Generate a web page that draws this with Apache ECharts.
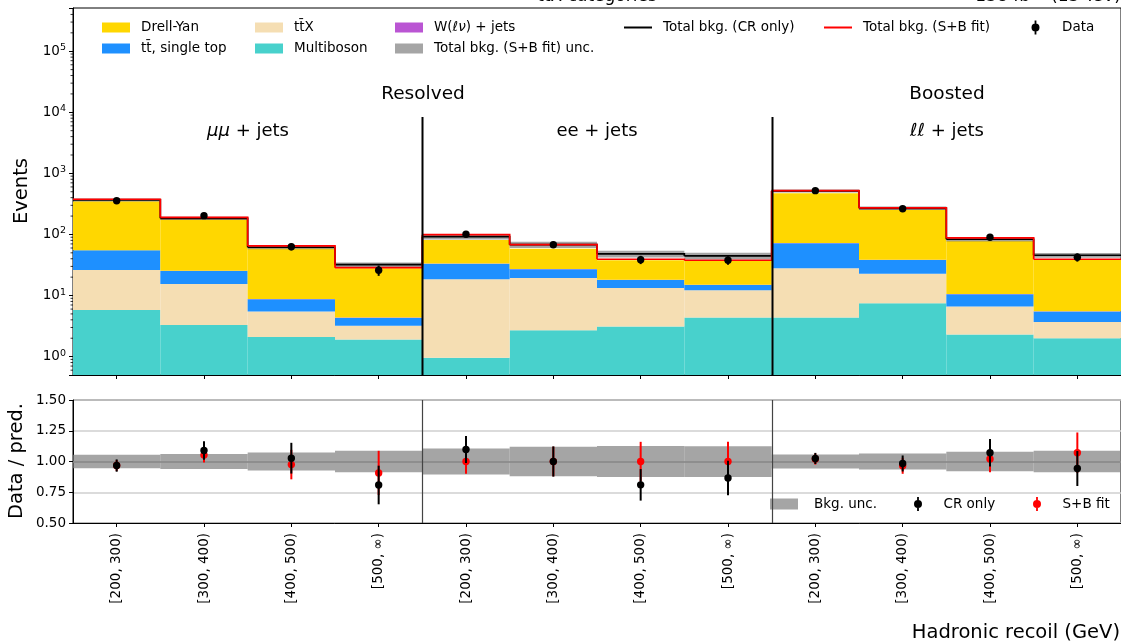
<!DOCTYPE html>
<html>
<head>
<meta charset="utf-8">
<script src="https://cdn.jsdelivr.net/npm/echarts@6/dist/echarts.min.js"></script>
<style>
html, body { margin: 0; padding: 0; background: #fff; }
#chart { width: 1121px; height: 643px; }
</style>
</head>
<body>
<div id="chart"></div>
<script>
// bins: 3 categories x 4 recoil bins
const bins = ['[200, 300)', '[300, 400)', '[400, 500)', '[500, ∞)',
              '[200, 300)', '[300, 400)', '[400, 500)', '[500, ∞)',
              '[200, 300)', '[300, 400)', '[400, 500)', '[500, ∞)'];

// background yields (events), bottom of stack first
const multiboson = [5.8, 3.3, 2.1, 1.9, 0.96, 2.7, 3.1, 4.35, 4.35, 7.5, 2.3, 2.0];
const ttx        = [20.4, 12.2, 3.4, 1.3, 17.5, 16.7, 10.2, 7.85, 23.6, 15.3, 4.3, 1.7];
const ttbar      = [28.8, 9.8, 3.2, 1.1, 14.8, 7.5, 4.7, 2.7, 43.8, 15.5, 3.9, 1.8];
const wjets      = [0.3, 0.2, 0.1, 0.05, 0.2, 0.2, 0.1, 0.1, 0.4, 0.3, 0.1, 0.05];
const drellyan   = [295, 152, 50.8, 23.7, 48, 31, 19.8, 22.9, 400, 214, 68.5, 32.8];

const totalCR  = [367, 184, 61.7, 32, 92, 68, 48, 44.5, 515, 268, 83.4, 45.7];
const totalSB  = [377, 191, 64.8, 28.6, 99.3, 68, 39.3, 37.8, 521, 272, 87.6, 39.3];
const relUnc   = [0.055, 0.06, 0.073, 0.088, 0.105, 0.12, 0.127, 0.125, 0.057, 0.066, 0.08, 0.087];

const data     = [357, 203, 63, 26, 100.7, 68, 38.7, 37.8, 521, 264, 90, 42.4];
const dataErr  = [19, 14, 8, 5, 10, 8, 6, 6, 23, 16, 9.5, 6.5];

// ratio panel
const ratioCR     = [0.967, 1.09, 1.027, 0.809, 1.098, 1.0, 0.81, 0.866, 1.025, 0.984, 1.071, 0.943];
const ratioCRErr  = [0.05, 0.075, 0.125, 0.157, 0.11, 0.123, 0.128, 0.14, 0.045, 0.065, 0.112, 0.142];
const ratioSB     = [0.967, 1.052, 0.975, 0.907, 1.0, 1.0, 1.0, 1.0, 1.02, 0.965, 1.02, 1.071];
const ratioSBErr  = [0.045, 0.06, 0.12, 0.18, 0.1, 0.12, 0.16, 0.16, 0.045, 0.065, 0.107, 0.165];

const regionLabels = ['Resolved', 'Boosted'];
const FONT = 'DejaVu Sans';
const Y_MIN = 0.5, Y_MAX = 5.1e5;
const DIVIDER_TOP = 8.4e3;

const chart = echarts.init(document.getElementById('chart'));

const layers = [
    { name: 'Multiboson', values: multiboson, color: '#48D1CC' },
    { name: 't\u0074\u0304X', values: ttx, color: '#F5DEB3' },
    { name: 't\u0074\u0304, single top', values: ttbar, color: '#1E90FF' },
    { name: 'W(ℓν) + jets', values: wjets, color: '#BA55D3' },
    { name: 'Drell-Yan', values: drellyan, color: '#FFD700' }
];

function rectSeries(name, lo, hi, color, xi, yi, z) {
    return {
        type: 'custom', name: name, xAxisIndex: xi, yAxisIndex: yi, z: z, silent: true,
        itemStyle: { color: color },
        encode: { x: 0, y: [1, 2] },
        data: lo.map((v, i) => [i, v, hi[i]]),
        renderItem: function (params, api) {
            const i = api.value(0);
            const p1 = api.coord([i, api.value(1)]);
            const p2 = api.coord([i, api.value(2)]);
            const w = api.size([1, 0], [i, api.value(2)])[0];
            return {
                type: 'rect',
                shape: { x: p1[0] - w / 2, y: p2[1], width: w, height: p1[1] - p2[1] },
                style: { fill: color }
            };
        }
    };
}

function stepSeries(name, vals, color, z) {
    return {
        type: 'custom', name: name, xAxisIndex: 0, yAxisIndex: 0, z: z, silent: true,
        itemStyle: { color: color },
        encode: { x: 0, y: 1 },
        data: vals.map((v, i) => [i, v, i < vals.length - 1 ? vals[i + 1] : v]),
        renderItem: function (params, api) {
            const i = api.value(0);
            const c = api.coord([i, api.value(1)]);
            const cn = api.coord([i, api.value(2)]);
            const w = api.size([1, 0], [i, api.value(1)])[0];
            return {
                type: 'polyline',
                shape: { points: [[c[0] - w / 2, c[1]], [c[0] + w / 2, c[1]], [c[0] + w / 2, cn[1]]] },
                style: { stroke: color, lineWidth: 1.7, fill: null }
            };
        }
    };
}

function pointSeries(name, vals, errs, color, xi, yi, z) {
    return {
        type: 'custom', name: name, xAxisIndex: xi, yAxisIndex: yi, z: z, silent: true,
        itemStyle: { color: color },
        encode: { x: 0, y: 1 },
        data: vals.map((v, i) => [i, v, errs[i]]),
        renderItem: function (params, api) {
            const i = api.value(0), v = api.value(1), e = api.value(2);
            const c = api.coord([i, v]);
            const t = api.coord([i, v + e]);
            const b = api.coord([i, v - e]);
            return {
                type: 'group',
                children: [
                    { type: 'line', shape: { x1: c[0], y1: t[1], x2: c[0], y2: b[1] }, style: { stroke: color, lineWidth: 2 } },
                    { type: 'circle', shape: { cx: c[0], cy: c[1], r: 3.7 }, style: { fill: color } }
                ]
            };
        }
    };
}

function dividerSeries(xi, yi, top, width, color) {
    return {
        type: 'custom', xAxisIndex: xi, yAxisIndex: yi, z: 8, silent: true,
        encode: { x: 0, y: 1 },
        data: [[3, top === null ? 1 : top], [7, top === null ? 1 : top]],
        renderItem: function (params, api) {
            const i = api.value(0);
            const c = api.coord([i, api.value(1)]);
            const w = api.size([1, 0], [i, api.value(1)])[0];
            const x = Math.round(c[0] + w / 2) + 0.5;
            const y0 = top === null ? params.coordSys.y : c[1];
            return {
                type: 'line',
                shape: { x1: x, y1: y0, x2: x, y2: params.coordSys.y + params.coordSys.height },
                style: { stroke: color, lineWidth: width }
            };
        }
    };
}

// stack
const series = [];
let cum = bins.map(() => 0);
layers.forEach((l, k) => {
    const lo = cum.map(v => Math.max(v, Y_MIN));
    const hi = cum.map((v, i) => v + l.values[i]);
    series.push(rectSeries(l.name, lo, hi, l.color, 0, 0, 2 + k * 0.01));
    cum = hi;
});

series.push(rectSeries('Total bkg. (S+B fit) unc.',
    totalCR.map((v, i) => v * (1 - relUnc[i])),
    totalCR.map((v, i) => v * (1 + relUnc[i])),
    'rgba(127,127,127,0.7)', 0, 0, 3));
series.push(stepSeries('Total bkg. (CR only)', totalCR, '#000000', 4));
series.push(stepSeries('Total bkg. (S+B fit)', totalSB, '#ff0000', 5));
series.push(pointSeries('Data', data, dataErr, '#000000', 0, 0, 6));
series.push(dividerSeries(0, 0, DIVIDER_TOP, 2, '#000'));

// minor log ticks on the main y axis
const minorVals = [];
for (let e = -1; e <= 5; e++) {
    for (let m = 2; m <= 9; m++) {
        const v = m * Math.pow(10, e);
        if (v > Y_MIN && v < Y_MAX) minorVals.push([0, v]);
    }
}
series.push({
    type: 'custom', xAxisIndex: 0, yAxisIndex: 0, z: 9, silent: true, clip: false,
    encode: { x: 0, y: 1 },
    data: minorVals,
    renderItem: function (params, api) {
        const c = api.coord([0, api.value(1)]);
        const x = params.coordSys.x;
        return { type: 'line', shape: { x1: x - 2.5, y1: c[1], x2: x, y2: c[1] }, style: { stroke: '#000', lineWidth: 0.8 } };
    }
});

// ratio panel
const ratioBand = rectSeries('Bkg. unc.', relUnc.map(u => 1 - u), relUnc.map(u => 1 + u), 'rgba(127,127,127,0.7)', 1, 1, 3);
ratioBand.markLine = {
    silent: true, symbol: 'none', label: { show: false },
    lineStyle: { color: '#8a8a8a', width: 1.5, type: 'solid' },
    data: [{ yAxis: 1 }]
};
series.push(ratioBand);
series.push(dividerSeries(1, 1, null, 1.2, '#444'));
series.push(pointSeries('S+B fit', ratioSB, ratioSBErr, '#ff0000', 1, 1, 5));
series.push(pointSeries('CR only', ratioCR, ratioCRErr, '#000000', 1, 1, 6));

// legends
const markerPath = 'path://M3.1,0 L4.9,0 L4.9,14 L3.1,14 Z M4,3 A4,4 0 1,1 4,11 A4,4 0 1,1 4,3 Z';
function legendItem(name, left, cy, icon, w, h, pad) {
    return {
        left: left, top: cy - 8, padding: 0, itemWidth: w, itemHeight: h, selectedMode: false,
        data: [{ name: name, icon: icon }],
        formatter: n => n === 'W(ℓν) + jets' ? 'W({i|ℓν}) + jets' : n,
        textStyle: {
            fontFamily: FONT, fontSize: 13.5, color: '#000', padding: [0, 0, 0, pad],
            rich: { i: { fontFamily: FONT, fontSize: 13.5, fontStyle: 'italic', color: '#000' } }
        }
    };
}
const legends = [
    legendItem('Drell-Yan', 102, 28.5, 'rect', 28, 10, 6),
    legendItem('t\u0074\u0304, single top', 102, 49.5, 'rect', 28, 10, 6),
    legendItem('t\u0074\u0304X', 255, 28.5, 'rect', 28, 10, 6),
    legendItem('Multiboson', 255, 49.5, 'rect', 28, 10, 6),
    legendItem('W(ℓν) + jets', 395, 28.5, 'rect', 28, 10, 6),
    legendItem('Total bkg. (S+B fit) unc.', 395, 49.5, 'rect', 28, 10, 6),
    legendItem('Total bkg. (CR only)', 624, 28.5, 'rect', 28, 2, 6),
    legendItem('Total bkg. (S+B fit)', 824, 28.5, 'rect', 28, 2, 6),
    legendItem('Data', 1031.5, 28.5, markerPath, 8, 14, 17.5),
    legendItem('Bkg. unc.', 770, 505, 'rect', 28, 11, 11),
    legendItem('CR only', 914, 505, markerPath, 8, 14, 16.5),
    legendItem('S+B fit', 1033, 505, markerPath, 8, 14, 16.5)
];

const labelStyle = { fontFamily: FONT, fontSize: 13.5, color: '#000' };

const option = {
    animation: false,
    backgroundColor: '#fff',
    legend: legends,
    grid: [
        { left: 73, top: 8, right: 0, bottom: 268, show: true, borderColor: '#000', borderWidth: 1, backgroundColor: 'transparent' },
        { left: 73, top: 400, right: 0, bottom: 120, show: true, borderColor: '#000', borderWidth: 1, backgroundColor: 'transparent' }
    ],
    xAxis: [
        {
            type: 'category', gridIndex: 0, data: bins, boundaryGap: true,
            axisLine: { show: true, lineStyle: { color: '#000' } },
            axisTick: { show: true, alignWithLabel: true, interval: 0, length: 4, lineStyle: { color: '#000' } },
            axisLabel: { show: false },
            splitLine: { show: false }
        },
        {
            type: 'category', gridIndex: 1, data: bins, boundaryGap: true,
            axisLine: { show: true, lineStyle: { color: '#000' } },
            axisTick: { show: true, alignWithLabel: true, interval: 0, length: 4, lineStyle: { color: '#000' } },
            axisLabel: Object.assign({ interval: 0, rotate: 90, margin: 10 }, labelStyle),
            splitLine: { show: false }
        }
    ],
    yAxis: [
        {
            type: 'log', logBase: 10, gridIndex: 0, min: Y_MIN, max: Y_MAX,
            axisLine: { show: true, lineStyle: { color: '#000' } },
            axisTick: { show: true, length: 4, lineStyle: { color: '#000' } },
            axisLabel: Object.assign({
                margin: 7,
                formatter: function (v) {
                    const e = Math.log10(v);
                    if (Math.abs(e - Math.round(e)) > 1e-6) return '';
                    return '10{sup|' + Math.round(e) + '}';
                },
                rich: { sup: { fontFamily: FONT, fontSize: 9.5, color: '#000', verticalAlign: 'top', padding: [0, 0, 7, 0] } }
            }, labelStyle),
            splitLine: { show: false }
        },
        {
            type: 'value', gridIndex: 1, min: 0.5, max: 1.5, interval: 0.25,
            axisLine: { show: true, lineStyle: { color: '#000' } },
            axisTick: { show: true, length: 4, lineStyle: { color: '#000' } },
            axisLabel: Object.assign({ margin: 7, formatter: v => v.toFixed(2) }, labelStyle),
            splitLine: { show: true, lineStyle: { color: '#cfcfcf', width: 1.5 } }
        }
    ],
    graphic: [
        { type: 'text', x: 76, y: 5, style: { text: 'CMS', font: 'bold 20px ' + FONT, fill: '#000', align: 'left', verticalAlign: 'bottom' } },
        { type: 'text', x: 597, y: 5, style: { text: 't\u0074\u0304X categories', font: '17px ' + FONT, fill: '#000', align: 'center', verticalAlign: 'bottom' } },
        { type: 'text', x: 1121, y: 5, style: { text: '138 fb\u207B\u00B9 (13 TeV)', font: '17px ' + FONT, fill: '#000', align: 'right', verticalAlign: 'bottom' } },
        { type: 'text', x: 423, y: 94, style: { text: regionLabels[0], font: '18.5px ' + FONT, fill: '#000', align: 'center', verticalAlign: 'middle' } },
        { type: 'text', x: 947, y: 94, style: { text: regionLabels[1], font: '18.5px ' + FONT, fill: '#000', align: 'center', verticalAlign: 'middle' } },
        { type: 'text', x: 248, y: 131, style: { text: '{i|μμ} + jets', fontFamily: FONT, fontSize: 18, fill: '#000', align: 'center', verticalAlign: 'middle',
            rich: { i: { fontFamily: FONT, fontSize: 18, fontStyle: 'italic', fill: '#000' } } } },
        { type: 'text', x: 597, y: 131, style: { text: 'ee + jets', fontFamily: FONT, fontSize: 18, fill: '#000', align: 'center', verticalAlign: 'middle' } },
        { type: 'text', x: 947, y: 131, style: { text: '{i|ℓℓ} + jets', fontFamily: FONT, fontSize: 18, fill: '#000', align: 'center', verticalAlign: 'middle',
            rich: { i: { fontFamily: FONT, fontSize: 18, fontStyle: 'italic', fill: '#000' } } } },
        { type: 'text', x: 22, y: 191, rotation: Math.PI / 2, style: { text: 'Events', font: '19.5px ' + FONT, fill: '#000', align: 'center', verticalAlign: 'middle' } },
        { type: 'text', x: 17, y: 461, rotation: Math.PI / 2, style: { text: 'Data / pred.', font: '19.5px ' + FONT, fill: '#000', align: 'center', verticalAlign: 'middle' } },
        { type: 'text', x: 1120, y: 633, style: { text: 'Hadronic recoil (GeV)', font: '19.5px ' + FONT, fill: '#000', align: 'right', verticalAlign: 'middle' } }
    ],
    series: series
};

chart.setOption(option);
</script>
</body>
</html>
